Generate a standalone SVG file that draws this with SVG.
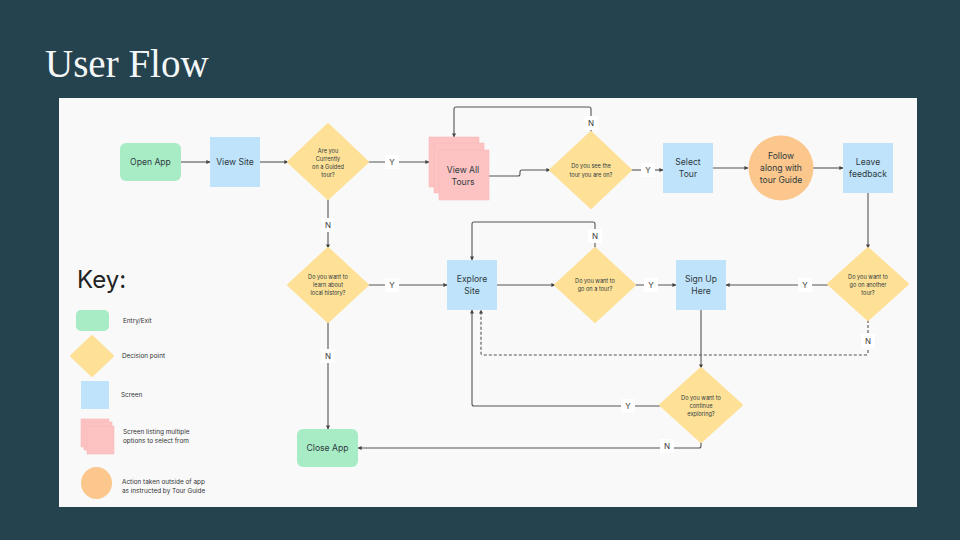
<svg xmlns="http://www.w3.org/2000/svg" width="960" height="540" viewBox="0 0 960 540">
<defs>
<marker id="ah" viewBox="0 0 10 10" refX="9" refY="5" markerWidth="4" markerHeight="4" markerUnits="userSpaceOnUse" orient="auto">
<path d="M0,0 L10,5 L0,10 z" fill="#444"/>
</marker>
<style>
.t{font-family:Inter,"Liberation Sans",sans-serif;fill:#2e3a40;text-anchor:middle;dominant-baseline:central}
.b{font-size:8.6px}
.d{font-size:5.6px}
.k{font-family:Inter,"Liberation Sans",sans-serif;fill:#333;font-size:6.4px;dominant-baseline:central}
.c{fill:none;stroke:#555;stroke-width:1.1}
.dash{stroke-dasharray:3,2}
.lb{fill:#fff}
.lt{font-family:Inter,"Liberation Sans",sans-serif;fill:#333;font-size:8px;text-anchor:middle;dominant-baseline:central}
.g{fill:#a8ecc6}
.y{fill:#fee196;stroke:#fee196;stroke-width:2;stroke-linejoin:round}
.bl{fill:#bfe3fb}
.p{fill:#fdc3c3;stroke:#fbb4b4;stroke-width:0.5}
.o{fill:#fbc78c}
</style>
</defs>
<rect width="960" height="540" fill="#25434f"/>
<text x="45" y="77" font-family="'Liberation Serif',serif" font-size="39" fill="#f4f7f8">User Flow</text>
<rect x="59" y="98" width="858" height="409" fill="#f9f9fa"/>

<g id="connectors">
<path class="c" d="M181,162 H210" marker-end="url(#ah)"/>
<path class="c" d="M260,162 H288" marker-end="url(#ah)"/>
<path class="c" d="M368,162 H429" marker-end="url(#ah)"/>
<path class="c" d="M489,176 H518 Q520,176 520,174 V172 Q520,170 522,170 H550" marker-end="url(#ah)"/>
<path class="c" d="M591,132 V109 Q591,107 589,107 H456 Q454,107 454,109 V137" marker-end="url(#ah)"/>
<path class="c" d="M631,170 H663" marker-end="url(#ah)"/>
<path class="c" d="M713,168 H748" marker-end="url(#ah)"/>
<path class="c" d="M813,168 H843" marker-end="url(#ah)"/>
<path class="c" d="M868,193 V248" marker-end="url(#ah)"/>
<path class="c" d="M328,199 V248" marker-end="url(#ah)"/>
<path class="c" d="M368,285 H447" marker-end="url(#ah)"/>
<path class="c" d="M497,285 H555" marker-end="url(#ah)"/>
<path class="c" d="M595,248 V224 Q595,222 593,222 H474 Q472,222 472,224 V260" marker-end="url(#ah)"/>
<path class="c" d="M635,285 H676" marker-end="url(#ah)"/>
<path class="c" d="M828,285 H726" marker-end="url(#ah)"/>
<path class="c dash" d="M868,320 V353 Q868,355 866,355 H483 Q481,355 481,353 V310" marker-end="url(#ah)"/>
<path class="c" d="M701,310 V368" marker-end="url(#ah)"/>
<path class="c" d="M660,406 H474 Q472,406 472,404 V310" marker-end="url(#ah)"/>
<path class="c" d="M701,442 V446 Q701,448 699,448 H358" marker-end="url(#ah)"/>
<path class="c" d="M328,322 V429" marker-end="url(#ah)"/>
<g id="labels">
<rect class="lb" x="385" y="155" width="14" height="14"/><text class="lt" x="392" y="162">Y</text>
<rect class="lb" x="584" y="116" width="14" height="14"/><text class="lt" x="591" y="123">N</text>
<rect class="lb" x="641" y="163" width="14" height="14"/><text class="lt" x="648" y="170">Y</text>
<rect class="lb" x="321" y="218" width="14" height="14"/><text class="lt" x="328" y="225">N</text>
<rect class="lb" x="385" y="278" width="14" height="14"/><text class="lt" x="392" y="285">Y</text>
<rect class="lb" x="588" y="229" width="14" height="14"/><text class="lt" x="595" y="236">N</text>
<rect class="lb" x="644" y="278" width="14" height="14"/><text class="lt" x="651" y="285">Y</text>
<rect class="lb" x="798" y="278" width="14" height="14"/><text class="lt" x="805" y="285">Y</text>
<rect class="lb" x="861" y="334" width="14" height="14"/><text class="lt" x="868" y="341">N</text>
<rect class="lb" x="321" y="349" width="14" height="14"/><text class="lt" x="328" y="356">N</text>
<rect class="lb" x="621" y="399" width="14" height="14"/><text class="lt" x="628" y="406">Y</text>
<rect class="lb" x="660" y="439" width="14" height="14"/><text class="lt" x="667" y="446">N</text>
</g>
</g>

<g id="open-app"><rect class="g" x="120" y="143" width="61" height="38" rx="6"/><text class="t b" x="150.5" y="162">Open App</text></g>
<g id="view-site"><rect class="bl" x="210" y="137" width="50" height="50"/><text class="t b" x="235" y="162">View Site</text></g>
<g id="d-guided"><polygon class="y" points="328,124 368,162 328,199 288,162"/>
<text class="t d" x="328" y="151">Are you</text><text class="t d" x="328" y="159">Currently</text><text class="t d" x="328" y="167">on a Guided</text><text class="t d" x="328" y="175">tour?</text></g>
<g id="view-all-tours"><rect class="p" x="429" y="137" width="50" height="50"/><rect class="p" x="434" y="143" width="50" height="50"/><rect class="p" x="439" y="150" width="50" height="50"/>
<text class="t b" x="463" y="170">View All</text><text class="t b" x="463" y="182">Tours</text></g>
<g id="d-see-tour"><polygon class="y" points="591,132 631,170 591,208 550,170"/>
<text class="t d" x="591" y="166">Do you see the</text><text class="t d" x="591" y="175">tour you are on?</text></g>
<g id="select-tour"><rect class="bl" x="663" y="143" width="50" height="50"/><text class="t b" x="688" y="162">Select</text><text class="t b" x="688" y="174">Tour</text></g>
<g id="follow-guide"><circle class="o" cx="781" cy="168" r="32.5"/>
<text class="t b" x="781" y="156">Follow</text><text class="t b" x="781" y="168">along with</text><text class="t b" x="781" y="180">tour Guide</text></g>
<g id="leave-feedback"><rect class="bl" x="843" y="143" width="50" height="50"/><text class="t b" x="868" y="162">Leave</text><text class="t b" x="868" y="174">feedback</text></g>

<g id="d-history"><polygon class="y" points="328,248 368,285 328,322 288,285"/>
<text class="t d" x="328" y="277">Do you want to</text><text class="t d" x="328" y="285">learn about</text><text class="t d" x="328" y="293">local history?</text></g>
<g id="explore-site"><rect class="bl" x="447" y="260" width="50" height="50"/><text class="t b" x="472" y="279">Explore</text><text class="t b" x="472" y="291">Site</text></g>
<g id="d-go-tour"><polygon class="y" points="595,248 635,285 595,322 555,285"/>
<text class="t d" x="595" y="281">Do you want to</text><text class="t d" x="595" y="289">go on a tour?</text></g>
<g id="sign-up"><rect class="bl" x="676" y="260" width="50" height="50"/><text class="t b" x="701" y="279">Sign Up</text><text class="t b" x="701" y="291">Here</text></g>
<g id="d-another"><polygon class="y" points="868,248 908,284 868,320 828,284"/>
<text class="t d" x="868" y="277">Do you want to</text><text class="t d" x="868" y="285">go on another</text><text class="t d" x="868" y="293">tour?</text></g>
<g id="d-continue"><polygon class="y" points="701,368 742,405 701,442 660,405"/>
<text class="t d" x="701" y="398">Do you want to</text><text class="t d" x="701" y="406">continue</text><text class="t d" x="701" y="414">exploring?</text></g>
<g id="close-app"><rect class="g" x="297" y="429" width="61" height="38" rx="6"/><text class="t b" x="327.5" y="448">Close App</text></g>

<g id="key">
<text x="77" y="288" font-family="Inter,'Liberation Sans',sans-serif" font-size="24" fill="#222">Key:</text>
<rect class="g" x="76" y="310" width="33" height="21" rx="5"/><text class="k" x="123" y="321">Entry/Exit</text>
<polygon class="y" points="92,336 113,356 92,376 71,356"/><text class="k" x="122" y="356">Decision point</text>
<rect class="bl" x="81" y="381" width="28" height="28"/><text class="k" x="121" y="395">Screen</text>
<rect class="p" x="81" y="419" width="28" height="28"/><rect class="p" x="84" y="422" width="28" height="28"/><rect class="p" x="87" y="426" width="27" height="28"/>
<text class="k" x="123" y="432">Screen listing multiple</text><text class="k" x="123" y="441">options to select from</text>
<ellipse class="o" cx="96.5" cy="483" rx="15.5" ry="16"/>
<text class="k" x="122" y="482">Action taken outside of app</text><text class="k" x="122" y="491">as instructed by Tour Guide</text>
</g>
</svg>
